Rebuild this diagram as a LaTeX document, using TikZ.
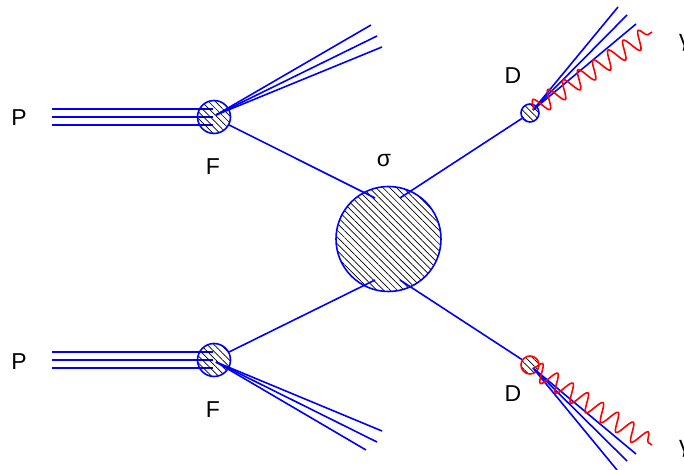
\documentclass[tikz,border=0pt]{standalone}
\usepackage{fontspec}
\setmainfont{Liberation Sans}
\usetikzlibrary{patterns.meta,decorations.pathmorphing}
\begin{document}
\begin{tikzpicture}[x=1pt,y=-1pt,
  lbl/.style={inner sep=0pt,font=\fontsize{23}{26}\selectfont},
  bl/.style={draw=blue,line width=1.6pt},
  blob/.style={circle,draw=blue,line width=1.6pt,inner sep=0pt,
    pattern={Lines[angle=-45,distance=4.8pt,line width=0.7pt]}},
  photon/.style={draw=red,line width=1.6pt,decorate,
    decoration={snake,amplitude=9pt,segment length=18pt}}]
\useasboundingbox (0,0) rectangle (684,470);
% beams
\foreach \dy in {-8,0,8}{
  \draw[bl] (52,117+\dy) -- (213,117+\dy);
  \draw[bl] (52,360+\dy) -- (213,360+\dy);
}
% vertices
\node[blob,minimum size=33pt] (F1) at (214,117) {};
\node[blob,minimum size=33pt] (F2) at (214,360) {};
\node[blob,minimum size=105pt] (S) at (388.5,239) {};
\node[blob,minimum size=18pt] (D1) at (530,113) {};
\node[blob,draw=red,minimum size=18pt] (D2) at (530,365) {};
% coordinates
\coordinate (s1) at (375,198);
\coordinate (s2) at (400,198);
\coordinate (s3) at (375,280);
\coordinate (s4) at (400,280);
\coordinate (j1) at (216,115);
\coordinate (j2) at (216,362);
\coordinate (k1) at (533,110);
\coordinate (k2) at (533,368);
% jets from F
\draw[bl] (j1) -- (371,25);
\draw[bl] (j1) -- (377,36);
\draw[bl] (j1) -- (382,47);
\draw[bl] (j2) -- (382,431);
\draw[bl] (j2) -- (377,442);
\draw[bl] (j2) -- (366,450);
% internal lines
\draw[bl] (F1.-28) -- (s1);
\draw[bl] (F2.28) -- (s3);
\draw[bl] (s2) -- (D1.-146);
\draw[bl] (s4) -- (D2.146);
% jets from D
\draw[bl] (k1) -- (618,7);
\draw[bl] (k1) -- (627,15);
\draw[bl] (k1) -- (636,24);
\draw[bl] (k2) -- (636,454);
\draw[bl] (k2) -- (627,461);
\draw[bl] (k2) -- (617,470);
% photons
\coordinate (g1) at (652,32);
\coordinate (g2) at (652,445);
\draw[photon] (k1) -- (g1);
\draw[photon] (k2) -- (g2);
% labels
\node[lbl] (P1) at (19,118) {P};
\node[lbl] (P2) at (19,362) {P};
\node[lbl] (LF1) at (213,167) {F};
\node[lbl] (LF2) at (213,410) {F};
\node[lbl] (LS) at (384,161) {σ};
\node[lbl] (LD1) at (513,76) {D};
\node[lbl] (LD2) at (513,394) {D};
\node[lbl,anchor=base west] (G1) at (679,47) {γ};
\node[lbl,anchor=base west] (G2) at (679,452) {γ};
\end{tikzpicture}
\end{document}
